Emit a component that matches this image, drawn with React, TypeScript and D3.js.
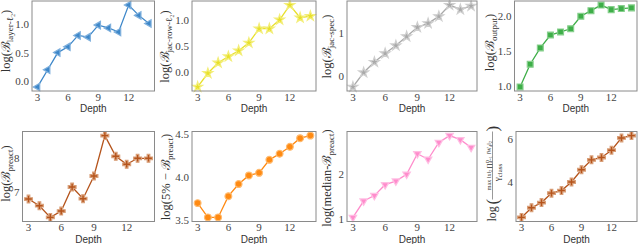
import * as d3 from "d3";

// depth of the network (x axis, shared by all panels)
const depth = [3, 4, 5, 6, 7, 8, 9, 10, 11, 12, 13, 14];

// log-bound values read per depth
const layerL2 = [-0.1, 0.2, 0.5, 0.6, 0.8, 0.77, 0.98, 0.93, 0.86, 1.33, 1.15, 1.01];
const jacRowL2 = [-0.28, -0.02, 0.18, 0.3, 0.41, 0.56, 0.83, 0.83, 1.0, 1.28, 1.04, 1.07];
const jacSpec = [-0.25, 0.08, 0.32, 0.52, 0.7, 0.91, 1.12, 1.21, 1.37, 1.63, 1.53, 1.61];
const outputB = [0.985, 1.31, 1.545, 1.73, 1.775, 1.82, 2.0, 2.08, 2.16, 2.095, 2.11, 2.12];
const preact = [6.78, 6.58, 6.23, 6.42, 7.14, 6.79, 7.47, 8.68, 8.06, 7.82, 8.0, 8.0];
const pct5Preact = [3.7, 3.535, 3.535, 3.78, 3.92, 4.02, 4.05, 4.2, 4.27, 4.35, 4.45, 4.48];
const medianPreact = [1.04, 1.4, 1.52, 1.76, 1.84, 1.99, 2.44, 2.32, 2.69, 2.84, 2.75, 2.58];
const normMargin = [2.35, 2.8, 3.04, 3.48, 3.6, 4.0, 4.57, 5.03, 5.14, 5.48, 6.05, 6.16];

const xTicks = [3, 6, 9, 12];

type Marker = "tri-left" | "star" | "square" | "plus" | "circle" | "tri-down";

interface Panel {
  values: number[];
  ticks: number[];
  fmt: string;
  color: string;
  edge: string;
  marker: Marker;
  sub: string;
  pre?: string;
  x0: number;
  x1: number;
  top: number;
  bottom: number;
  labelX: number;
  labelY: number;
}

const row1 = { top: 1, bottom: 91 };
const row2 = { top: 131.5, bottom: 221.5 };

const panels: Panel[] = [
  { values: layerL2, ticks: [0, 0.5, 1.0], fmt: ".1f", color: "#3d87c9", edge: "#7fb0dd", marker: "tri-left", sub: "layer-ℓ₂", x0: 32, x1: 154.5, ...row1, labelX: 9.5, labelY: 41 },
  { values: jacRowL2, ticks: [0, 0.5, 1.0], fmt: ".1f", color: "#e8e02a", edge: "#f3ee7a", marker: "star", sub: "jac-row-ℓ₂", x0: 192, x1: 316, ...row1, labelX: 169, labelY: 46.5 },
  { values: jacSpec, ticks: [0, 1], fmt: "d", color: "#a9a9a9", edge: "#cfcfcf", marker: "star", sub: "jac-spec", x0: 347, x1: 477, ...row1, labelX: 331, labelY: 46.5 },
  { values: outputB, ticks: [1.0, 1.5, 2.0], fmt: ".1f", color: "#3eae48", edge: "#86cf8c", marker: "square", sub: "output", x0: 514.5, x1: 637, ...row1, labelX: 494, labelY: 42.5 },
  { values: preact, ticks: [7, 8], fmt: "d", color: "#b5541c", edge: "#d9a07a", marker: "plus", sub: "preact", x0: 22.5, x1: 154.5, ...row2, labelX: 10, labelY: 173.5 },
  { values: pct5Preact, ticks: [3.5, 4.0, 4.5], fmt: ".1f", color: "#ff8a12", edge: "#ffbb70", marker: "circle", sub: "preact", pre: "5% − ", x0: 192, x1: 316, ...row2, labelX: 170, labelY: 177 },
  { values: medianPreact, ticks: [1, 2], fmt: "d", color: "#ff8ccc", edge: "#ffbfe3", marker: "tri-down", sub: "preact", pre: "median-", x0: 347, x1: 477, ...row2, labelX: 331, labelY: 178 },
  { values: normMargin, ticks: [4, 6], fmt: "d", color: "#b5541c", edge: "#d9a07a", marker: "plus", sub: "", x0: 516, x1: 637, ...row2, labelX: 496, labelY: 175.5 },
];

const serif = "'Liberation Serif', 'DejaVu Serif', serif";
const sans = "'Liberation Sans', Arial, sans-serif";

function markerPath(m: Marker) {
  const sym = d3.symbol();
  switch (m) {
    case "tri-left":
    case "tri-down":
      return sym.type(d3.symbolTriangle).size(24)();
    case "star":
      return sym.type(d3.symbolStar).size(30)();
    case "square":
      return sym.type(d3.symbolSquare).size(34)();
    case "plus":
      return sym.type(d3.symbolCross).size(34)();
    default:
      return sym.type(d3.symbolCircle).size(36)();
  }
}

function markerRotate(m: Marker) {
  if (m === "tri-left") return -90;
  if (m === "tri-down") return 180;
  return 0;
}

function YLabel({ p }: { p: Panel }) {
  if (!p.sub) {
    // fraction label of the last panel
    return (
      <g transform={`translate(${p.labelX},${p.labelY}) rotate(-90)`} fontFamily={serif} fill="#333">
        <text x={-46} y={0} fontSize={12}>log</text>
        <text x={-29} y={2} fontSize={17}>(</text>
        <text x={10} y={-5.5} fontSize={6} textAnchor="middle">
          max ‖x‖<tspan fontSize={4.5} dy={1.5}>2</tspan>
          <tspan dy={-1.5}> ∏</tspan>
          <tspan fontSize={4.5} dy={-2}>D</tspan>
          <tspan fontSize={4.5} dy={3.5} dx={-3}>d=1</tspan>
          <tspan dy={-1.5}> ‖W</tspan>
          <tspan fontSize={4.5} dy={1.5}>d</tspan>
          <tspan dy={-1.5}>‖</tspan>
          <tspan fontSize={4.5} dy={1.5}>2</tspan>
        </text>
        <line x1={-24} x2={44} y1={-3.5} y2={-3.5} stroke="#333" strokeWidth={0.5} />
        <text x={3} y={4} fontSize={9} textAnchor="middle">
          γ<tspan fontSize={7} dy={2}>class</tspan>
        </text>
        <text x={44} y={2} fontSize={17}>)</text>
      </g>
    );
  }
  return (
    <text
      transform={`translate(${p.labelX},${p.labelY}) rotate(-90)`}
      textAnchor="middle"
      fontFamily={serif}
      fontSize={12.5}
      fill="#333"
    >
      log{"("}{p.pre ?? ""}ℬ
      <tspan fontSize={9} dy={3}>{p.sub}</tspan>
      <tspan dy={-3}>{")"}</tspan>
    </text>
  );
}

function PanelChart({ p }: { p: Panel }) {
  const x = d3.scaleLinear().domain([2.45, 14.55]).range([p.x0, p.x1]);
  const [lo, hi] = d3.extent(p.values) as [number, number];
  const pad = (hi - lo) * 0.05;
  const y = d3.scaleLinear().domain([lo - pad, hi + pad]).range([p.bottom, p.top]);
  const pts = depth.map((d, i) => [d, p.values[i]] as [number, number]);
  const line = d3.line<[number, number]>().x((d) => x(d[0])).y((d) => y(d[1]));
  const fmt = d3.format(p.fmt);
  const mp = markerPath(p.marker);
  const rot = markerRotate(p.marker);

  return (
    <g>
      <path d={line(pts) ?? ""} fill="none" stroke={p.color} strokeWidth={1.3} />
      {pts.map((d, i) => (
        <path
          key={i}
          d={mp ?? ""}
          transform={`translate(${x(d[0])},${y(d[1])}) rotate(${rot})`}
          fill={p.color}
          stroke={p.edge}
          strokeWidth={1.2}
        />
      ))}
      <rect
        x={p.x0}
        y={p.top}
        width={p.x1 - p.x0}
        height={p.bottom - p.top}
        fill="none"
        stroke="#8a8a8a"
        strokeWidth={1}
      />
      {p.ticks.map((t) => (
        <text
          key={t}
          x={p.x0 - 3}
          y={y(t)}
          textAnchor="end"
          dominantBaseline="central"
          fontFamily={serif}
          fontSize={11}
          fill="#444"
        >
          {fmt(t)}
        </text>
      ))}
      {xTicks.map((t) => (
        <text
          key={t}
          x={x(t)}
          y={p.bottom + 9.5}
          textAnchor="middle"
          fontFamily={serif}
          fontSize={11}
          fill="#444"
        >
          {t}
        </text>
      ))}
      <text
        x={(p.x0 + p.x1) / 2}
        y={p.bottom + 21}
        textAnchor="middle"
        fontFamily={sans}
        fontSize={10}
        fill="#333"
      >
        Depth
      </text>
      <YLabel p={p} />
    </g>
  );
}

export default function App() {
  return (
    <svg
      width={640}
      height={244}
      style={{ position: "absolute", left: 0, top: 0, background: "#fff" }}
    >
      {panels.map((p, i) => (
        <PanelChart key={i} p={p} />
      ))}
    </svg>
  );
}
